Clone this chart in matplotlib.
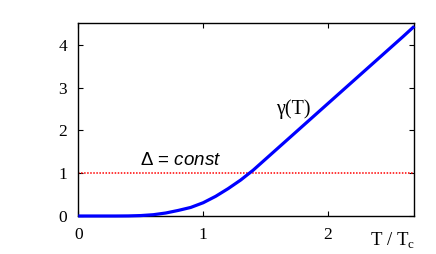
import matplotlib
matplotlib.use("Agg")
import matplotlib.pyplot as plt

plt.rcParams["mathtext.fontset"] = "custom"
plt.rcParams["mathtext.rm"] = "Liberation Sans"
plt.rcParams["mathtext.it"] = "Liberation Sans:italic"

# gamma(T)
t_vals = [0.0, 0.3, 0.4, 0.5, 0.6, 0.7, 0.8, 0.9, 1.0, 1.1, 1.2, 1.3, 1.4,
          1.5, 1.6, 1.7, 1.8, 1.9, 2.0, 2.1, 2.2, 2.3, 2.4, 2.5, 2.6, 2.69]
gamma_vals = [0.0, 0.0, 0.002, 0.01, 0.03, 0.07, 0.13, 0.2, 0.31, 0.46, 0.64,
              0.84, 1.07, 1.33, 1.59, 1.85, 2.11, 2.37, 2.63, 2.89, 3.15,
              3.41, 3.67, 3.93, 4.19, 4.43]
delta_level = 1.0
x_ticks = [0, 1, 2]
y_ticks = [0, 1, 2, 3, 4]

fig = plt.figure(figsize=(4.36, 2.54), dpi=100)
ax = fig.add_axes([0.1796, 0.1496, 0.7706, 0.7587])

ax.axhline(delta_level, color="#ff0000", linestyle=(0, (1, 1)), linewidth=1.1, zorder=2)
ax.plot(t_vals, gamma_vals, color="#0000ff", linewidth=2.3, clip_on=False,
        zorder=4, solid_capstyle="butt")

ax.set_xlim(0, 2.69)
ax.set_ylim(0, 4.5)
ax.set_xticks(x_ticks)
ax.set_yticks(y_ticks)
ax.tick_params(direction="in", length=3.5, width=0.8, pad=8,
               top=True, right=True, labelsize=12.5)
for lab in ax.get_xticklabels() + ax.get_yticklabels():
    lab.set_family("Liberation Serif")
for s in ax.spines.values():
    s.set_linewidth(1.0)

ax.text(0.49, 1.18, "\u0394 = $\\mathit{const}$", fontsize=13.5, family="Liberation Sans",
        va="baseline", ha="left")
ax.text(1.587, 2.38, "\u03b3(T)", fontsize=14.5, family="Liberation Serif",
        va="baseline", ha="left")
ax.text(1.003, -0.15, r"T / T$_\mathregular{c}$", fontsize=13.5, family="Liberation Serif",
        va="baseline", ha="right", transform=ax.transAxes)

fig.savefig("out.png", dpi=100)
